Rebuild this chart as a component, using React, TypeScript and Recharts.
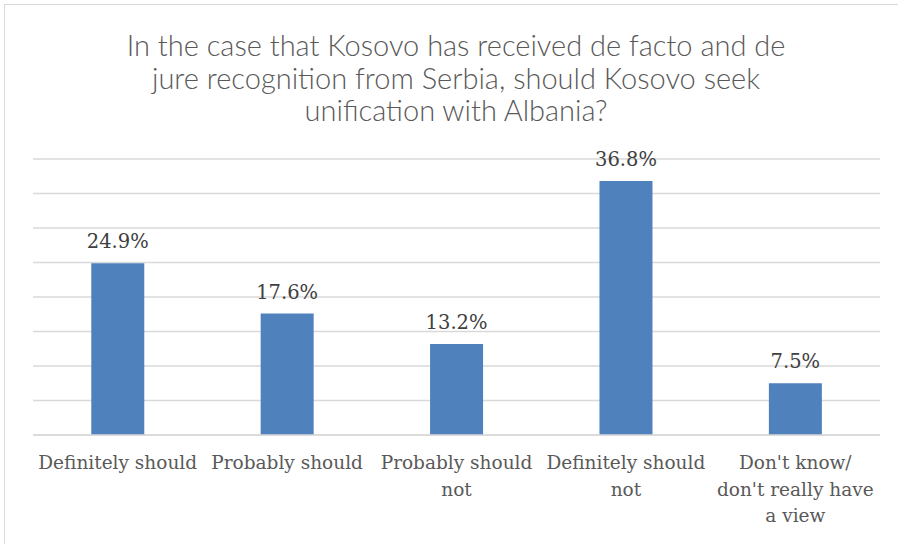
import React from "react";
import { BarChart, Bar, XAxis, YAxis, CartesianGrid, LabelList } from "recharts";

const categories = [
  "Definitely should",
  "Probably should",
  "Probably should not",
  "Definitely should not",
  "Don't know/ don't really have a view",
];
const tickLines = [
  ["Definitely should"],
  ["Probably should"],
  ["Probably should", "not"],
  ["Definitely should", "not"],
  ["Don't know/", "don't really have", "a view"],
];
const values = [24.9, 17.6, 13.2, 36.8, 7.5];
const yTicks = [0, 5, 10, 15, 20, 25, 30, 35, 40];
const titleLines = [
  "In the case that Kosovo has received de facto and de",
  "jure recognition from Serbia, should Kosovo seek",
  "unification with Albania?",
];

const data = categories.map((name, i) => ({ name, value: values[i] }));

const serif = "'DejaVu Serif', serif";

function CategoryTick(props: any) {
  const { x, y, index } = props;
  const lines = tickLines[index] || [];
  return (
    <text x={x} y={y} textAnchor="middle" fill="#595959" fontFamily={serif} fontSize={18.5}>
      {lines.map((l, i) => (
        <tspan key={i} x={x} dy={i === 0 ? 26 : 26.5}>
          {l}
        </tspan>
      ))}
    </text>
  );
}

export default function App() {
  return (
    <div style={{ position: "absolute", left: 0, top: 0, width: 898, height: 544, background: "#fff", overflow: "hidden" }}>
      <div
        style={{
          position: "absolute",
          left: 4,
          top: 4,
          width: 910,
          height: 560,
          border: "1px solid #d9d9d9",
          boxSizing: "border-box",
        }}
      />
      <div
        style={{
          position: "absolute",
          left: 0,
          top: 29,
          width: 912,
          textAlign: "center",
          fontFamily: "Lato, sans-serif",
          fontWeight: 300,
          fontSize: 29,
          lineHeight: "32.5px",
          color: "#595959",
        }}
      >
        {titleLines.map((t, i) => (
          <div key={i}>{t}</div>
        ))}
      </div>
      <BarChart
        width={898}
        height={544}
        data={data}
        margin={{ top: 159, right: 18, left: 33, bottom: 49 }}
        barCategoryGap="34.4%"
        style={{ position: "absolute", left: 0, top: 0 }}
      >
        <CartesianGrid vertical={false} stroke="#d9d9d9" strokeWidth={1.3} horizontalValues={yTicks} />
        <YAxis domain={[0, 40]} ticks={yTicks} hide />
        <XAxis
          dataKey="name"
          interval={0}
          height={60}
          tickLine={false}
          axisLine={{ stroke: "#d9d9d9", strokeWidth: 1.3 }}
          tick={<CategoryTick />}
        />
        <Bar dataKey="value" fill="#4f81bd" isAnimationActive={false}>
          <LabelList
            dataKey="value"
            position="top"
            offset={15}
            formatter={(v: any) => `${Number(v).toFixed(1)}%`}
            fill="#404040"
            fontFamily={serif}
            fontSize={19.5}
          />
        </Bar>
      </BarChart>
    </div>
  );
}
